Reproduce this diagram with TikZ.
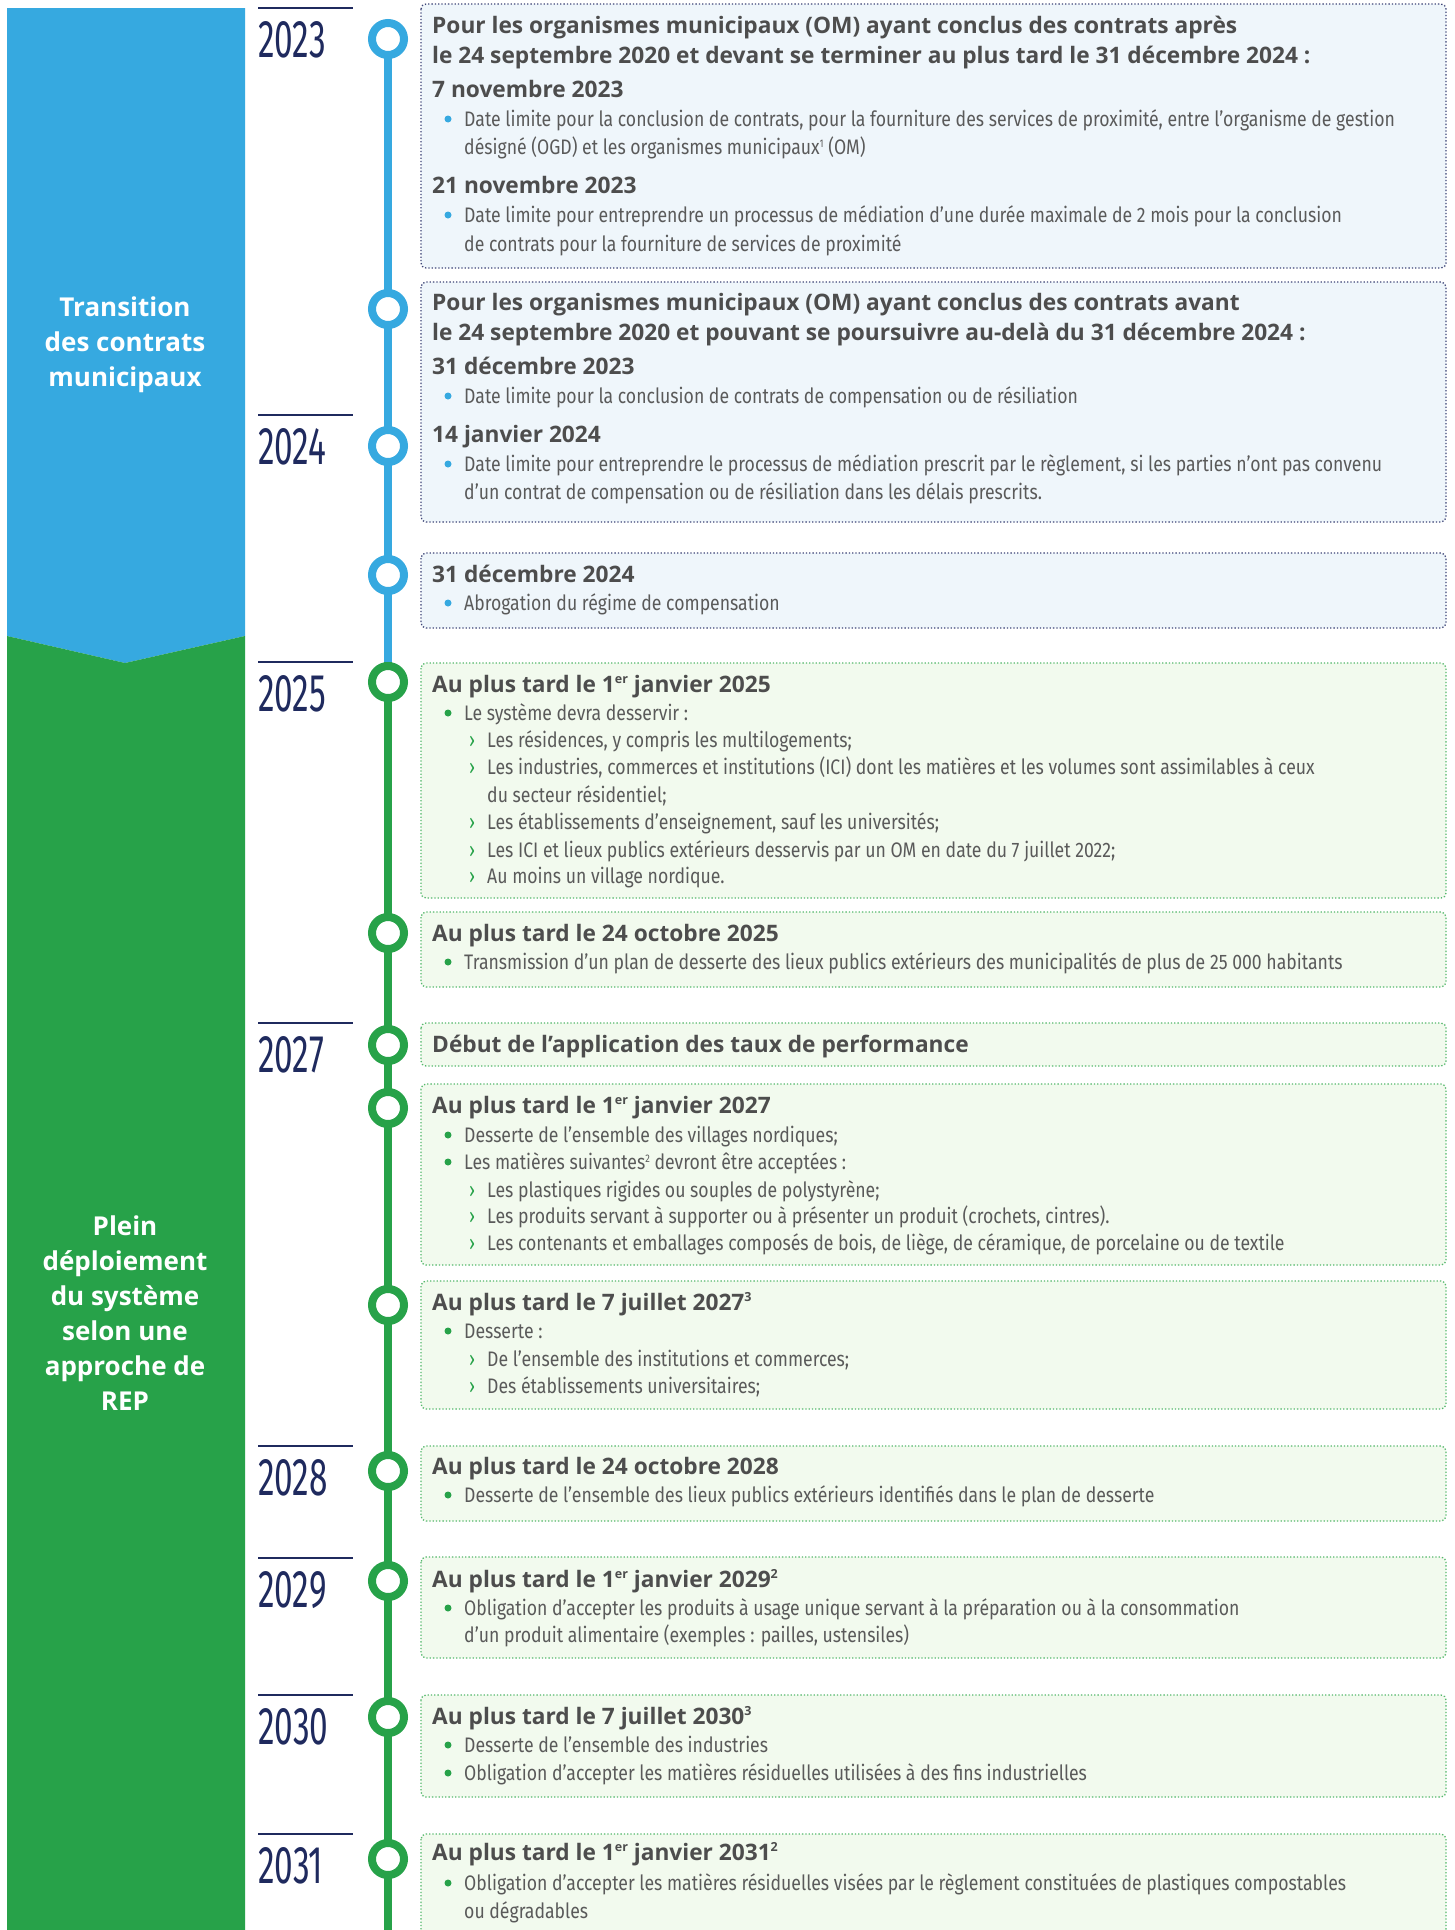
\documentclass[tikz,border=0pt]{standalone}
\usepackage{fontspec}
\setmainfont{Lato}
\newfontfamily\headfont{Open Sans}
\newfontfamily\bodyfont[FakeStretch=0.84]{Fira Sans}
\newfontfamily\yearfont[FakeStretch=0.63]{Fira Sans}
\usetikzlibrary{calc}

\definecolor{repblue}{HTML}{36A9E0}
\definecolor{repgreen}{HTML}{27A249}
\definecolor{yearnavy}{HTML}{1F2A5E}
\definecolor{headgray}{HTML}{4D4D4D}
\definecolor{bodygray}{HTML}{5A5A5A}
\definecolor{boxblue}{HTML}{EFF6FB}
\definecolor{boxgreen}{HTML}{F2FAEE}
\definecolor{dotnavy}{HTML}{3E4577}
\definecolor{dotgreen}{HTML}{55B86C}

% small raised marks (1er, notes)
\newcommand\hsup[1]{\raisebox{0.36em}{\fontsize{12.5}{12.5}\selectfont #1}}
\newcommand\bsup[1]{\raisebox{0.3em}{\fontsize{11}{11}\selectfont #1}}

\tikzset{
  head/.style={anchor=base west, inner sep=0pt, text=headgray,
    font=\headfont\fontsize{22.7}{26}\selectfont\bfseries},
  body/.style={anchor=base west, inner sep=0pt, text=bodygray,
    font=\bodyfont\fontsize{21}{25}\selectfont},
  chev/.style={body, text=repgreen},
  dotb/.style={circle, fill=repblue, inner sep=0pt, minimum size=7pt},
  dotg/.style={circle, fill=repgreen, inner sep=0pt, minimum size=7pt},
  ring/.style={circle, draw=#1, line width=8pt, fill=white,
    minimum size=32pt, inner sep=0pt},
  boxb/.style={draw=dotnavy, dotted, line width=1.3pt, fill=boxblue,
    rounded corners=5pt},
  boxg/.style={draw=dotgreen, dotted, line width=1.3pt, fill=boxgreen,
    rounded corners=5pt},
  bandlabel/.style={text=white, align=center, inner sep=0pt,
    font=\headfont\fontsize{26}{35}\selectfont\bfseries},
  yearlbl/.style={anchor=base west, inner sep=0pt, text=yearnavy,
    font=\yearfont\fontsize{53}{53}\selectfont},
}

\begin{document}
\begin{tikzpicture}[x=1pt, y=-1pt]
    \useasboundingbox (0,0) rectangle (1455,1930);
    \fill[white] (0,0) rectangle (1455,1930);

    % left bands
    \fill[repblue] (7,8) -- (245,8) -- (245,636) -- (125,663) -- (7,636) -- cycle;
    \fill[repgreen] (7,636) -- (125,663) -- (245,636) -- (245,1930) -- (7,1930) -- cycle;
    \node[bandlabel] (transition) at (125,345) {Transition\\des contrats\\municipaux};
    \node[bandlabel] (deploiement) at (125,1313)
        {Plein\\déploiement\\du système\\selon une\\approche de\\REP};

    % years
    \foreach \yr/\yy in {2023/8, 2024/415, 2025/662, 2027/1023, 2028/1446, 2029/1558, 2030/1695, 2031/1834}
    {
        \draw[yearnavy, line width=1.5pt] (258,\yy) -- (353,\yy);
        \node[yearlbl] (y\yr) at (258,\yy+49) {\yr};
    }

    % timeline
    \coordinate (tltop) at (388,39);
    \coordinate (tlmid) at (388,662);
    \coordinate (tlend) at (388,1930);
    \draw[repblue, line width=8pt] (tltop) -- (tlmid);
    \draw[repgreen, line width=8pt] (tlmid) -- (tlend);
    \foreach \n/\yy in {1/39, 2/309, 3/446, 4/575}
        \node[ring=repblue] (c\n) at (388,\yy) {};
    \foreach \n/\yy in {5/682, 6/933, 7/1045, 8/1108, 9/1305, 10/1471, 11/1581, 12/1717, 13/1859}
        \node[ring=repgreen] (c\n) at (388,\yy) {};

    % boxes
    \draw[boxb] (421,4) rectangle (1446,268);
    \draw[boxb] (421,282) rectangle (1446,522);
    \draw[boxb] (421,553) rectangle (1446,628);
    \draw[boxg] (421,663) rectangle (1446,898);
    \draw[boxg] (421,912) rectangle (1446,987);
    \draw[boxg] (421,1023) rectangle (1446,1066);
    \draw[boxg] (421,1084) rectangle (1446,1265);
    \draw[boxg] (421,1281) rectangle (1446,1409);
    \draw[boxg] (421,1446) rectangle (1446,1521);
    \draw[boxg] (421,1557) rectangle (1446,1658);
    \draw[boxg] (421,1695) rectangle (1446,1797);
    \draw[boxg] (421,1834) rectangle (1446,1945);

    % 2023 - contrats apres
    \node[head] (b1h1) at (432,33) {Pour les organismes municipaux (OM) ayant conclus des contrats après};
    \node[head] (b1h2) at (432,63) {le 24 septembre 2020 et devant se terminer au plus tard le 31 décembre 2024 :};
    \node[head] (b1h3) at (432,97) {7 novembre 2023};
    \node[dotb] (b1d1) at (448,119) {};
    \node[body] (b1t1) at (464,126) {Date limite pour la conclusion de contrats, pour la fourniture des services de proximité, entre l’organisme de gestion};
    \node[body] (b1t2) at (464,154) {désigné (OGD) et les organismes municipaux\bsup{1} (OM)};
    \node[head] (b1h4) at (432,193) {21 novembre 2023};
    \node[dotb] (b1d2) at (448,215) {};
    \node[body] (b1t3) at (464,222) {Date limite pour entreprendre un processus de médiation d’une durée maximale de 2 mois pour la conclusion};
    \node[body] (b1t4) at (464,251) {de contrats pour la fourniture de services de proximité};

    % contrats avant
    \node[head] (b2h1) at (432,310) {Pour les organismes municipaux (OM) ayant conclus des contrats avant};
    \node[head] (b2h2) at (432,340) {le 24 septembre 2020 et pouvant se poursuivre au-delà du 31 décembre 2024 :};
    \node[head] (b2h3) at (432,374) {31 décembre 2023};
    \node[dotb] (b2d1) at (448,396) {};
    \node[body] (b2t1) at (464,403) {Date limite pour la conclusion de contrats de compensation ou de résiliation};
    \node[head] (b2h4) at (432,442) {14 janvier 2024};
    \node[dotb] (b2d2) at (448,464) {};
    \node[body] (b2t2) at (464,471) {Date limite pour entreprendre le processus de médiation prescrit par le règlement, si les parties n’ont pas convenu};
    \node[body] (b2t3) at (464,499) {d’un contrat de compensation ou de résiliation dans les délais prescrits.};

    \node[head] (b3h1) at (432,582) {31 décembre 2024};
    \node[dotb] (b3d1) at (448,603) {};
    \node[body] (b3t1) at (464,610) {Abrogation du régime de compensation};

    % 2025
    \node[head] (b4h1) at (432,692) {Au plus tard le 1\hsup{er} janvier 2025};
    \node[dotg] (b4d1) at (448,713) {};
    \node[body] (b4t1) at (464,720) {Le système devra desservir :};
    \node[chev] (b4c1) at (469,747) {›};
    \node[body] (b4t2) at (487,747) {Les résidences, y compris les multilogements;};
    \node[chev] (b4c2) at (469,774) {›};
    \node[body] (b4t3) at (487,774) {Les industries, commerces et institutions (ICI) dont les matières et les volumes sont assimilables à ceux};
    \node[body] (b4t4) at (487,802) {du secteur résidentiel;};
    \node[chev] (b4c3) at (469,829) {›};
    \node[body] (b4t5) at (487,829) {Les établissements d’enseignement, sauf les universités;};
    \node[chev] (b4c4) at (469,857) {›};
    \node[body] (b4t6) at (487,857) {Les ICI et lieux publics extérieurs desservis par un OM en date du 7 juillet 2022;};
    \node[chev] (b4c5) at (469,883) {›};
    \node[body] (b4t7) at (487,883) {Au moins un village nordique.};

    \node[head] (b5h1) at (432,941) {Au plus tard le 24 octobre 2025};
    \node[dotg] (b5d1) at (448,962) {};
    \node[body] (b5t1) at (464,969) {Transmission d’un plan de desserte des lieux publics extérieurs des municipalités de plus de 25 000 habitants};

    % 2027
    \node[head] (b6h1) at (432,1052) {Début de l’application des taux de performance};

    \node[head] (b7h1) at (432,1113) {Au plus tard le 1\hsup{er} janvier 2027};
    \node[dotg] (b7d1) at (448,1135) {};
    \node[body] (b7t1) at (464,1142) {Desserte de l’ensemble des villages nordiques;};
    \node[dotg] (b7d2) at (448,1162) {};
    \node[body] (b7t2) at (464,1169) {Les matières suivantes\bsup{2} devront être acceptées :};
    \node[chev] (b7c1) at (469,1197) {›};
    \node[body] (b7t3) at (487,1197) {Les plastiques rigides ou souples de polystyrène;};
    \node[chev] (b7c2) at (469,1223) {›};
    \node[body] (b7t4) at (487,1223) {Les produits servant à supporter ou à présenter un produit (crochets, cintres).};
    \node[chev] (b7c3) at (469,1250) {›};
    \node[body] (b7t5) at (487,1250) {Les contenants et emballages composés de bois, de liège, de céramique, de porcelaine ou de textile};

    \node[head] (b8h1) at (432,1310) {Au plus tard le 7 juillet 2027\hsup{3}};
    \node[dotg] (b8d1) at (448,1331) {};
    \node[body] (b8t1) at (464,1338) {Desserte :};
    \node[chev] (b8c1) at (469,1366) {›};
    \node[body] (b8t2) at (487,1366) {De l’ensemble des institutions et commerces;};
    \node[chev] (b8c2) at (469,1393) {›};
    \node[body] (b8t3) at (487,1393) {Des établissements universitaires;};

    % 2028 - 2031
    \node[head] (b9h1) at (432,1474) {Au plus tard le 24 octobre 2028};
    \node[dotg] (b9d1) at (448,1495) {};
    \node[body] (b9t1) at (464,1502) {Desserte de l’ensemble des lieux publics extérieurs identifiés dans le plan de desserte};

    \node[head] (b10h1) at (432,1587) {Au plus tard le 1\hsup{er} janvier 2029\hsup{2}};
    \node[dotg] (b10d1) at (448,1608) {};
    \node[body] (b10t1) at (464,1615) {Obligation d’accepter les produits à usage unique servant à la préparation ou à la consommation};
    \node[body] (b10t2) at (464,1642) {d’un produit alimentaire (exemples : pailles, ustensiles)};

    \node[head] (b11h1) at (432,1724) {Au plus tard le 7 juillet 2030\hsup{3}};
    \node[dotg] (b11d1) at (448,1745) {};
    \node[body] (b11t1) at (464,1752) {Desserte de l’ensemble des industries};
    \node[dotg] (b11d2) at (448,1773) {};
    \node[body] (b11t2) at (464,1780) {Obligation d’accepter les matières résiduelles utilisées à des fins industrielles};

    \node[head] (b12h1) at (432,1860) {Au plus tard le 1\hsup{er} janvier 2031\hsup{2}};
    \node[dotg] (b12d1) at (448,1883) {};
    \node[body] (b12t1) at (464,1890) {Obligation d’accepter les matières résiduelles visées par le règlement constituées de plastiques compostables};
    \node[body] (b12t2) at (464,1918) {ou dégradables};
\end{tikzpicture}
\end{document}
